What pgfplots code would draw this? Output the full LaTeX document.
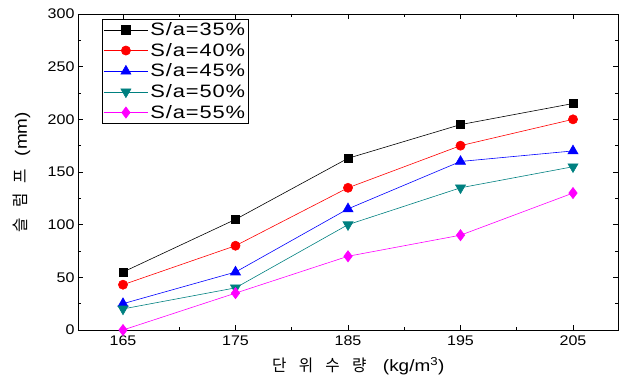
\documentclass[border=0pt]{standalone}
\usepackage{pgfplots}
\pgfplotsset{compat=1.18}
\usepackage{fontspec}
\setmainfont{Liberation Sans}[FakeStretch=1.15]
\newfontfamily\lgfont{Liberation Sans}[FakeStretch=1.22, LetterSpace=5]
\newfontfamily\kr{Noto Sans CJK KR}[FakeStretch=0.95]
\definecolor{cblack}{RGB}{0,0,0}
\definecolor{cred}{RGB}{255,0,0}
\definecolor{cblue}{RGB}{0,0,255}
\definecolor{cteal}{RGB}{0,128,128}
\definecolor{cmag}{RGB}{255,0,255}
\begin{document}
\begin{tikzpicture}
\begin{axis}[name=ax,
  scale only axis, width=540bp, height=316bp,
  xmin=161, xmax=209, ymin=0, ymax=300,
  xtick={165,175,185,195,205}, minor xtick={170,180,190,200},
  ytick={0,50,...,300}, minor ytick={25,75,...,275},
  tick align=inside, major tick length=5bp, minor tick length=3bp,
  tick style={black, line width=0.6pt},
  axis line style={line width=0.9pt},
  /pgf/number format/assume math mode=true,
  tick label style={font=\fontsize{14}{15}\selectfont},
  xticklabel style={yshift=-2bp},
  xlabel={{\kr 단\hspace{0.75em}위\hspace{0.75em}수\hspace{0.75em}량}\hspace{1em}(kg/m\textsuperscript{3})},
  ylabel={{\kr 슬\hspace{0.6em}럼\hspace{0.6em}프}\hspace{0.8em}(mm)},
  label style={font=\fontsize{16.5}{17}\selectfont},
  xlabel style={at={(axis description cs:0.519,-0.114)}, anchor=center},
  ylabel style={at={(axis description cs:-0.104,0.5)}, anchor=center},
  legend style={at={(axis cs:163.1,295.5)}, anchor=north west, font=\lgfont\fontsize{18}{19}\selectfont,
    draw=black, line width=0.8pt, inner sep=1.5pt, row sep=2.2pt, cells={anchor=west}},
  legend image code/.code={%
    \draw[mark repeat=2,mark phase=2] plot coordinates {(0cm,0cm) (0.78cm,0cm) (1.56cm,0cm)};},
  every axis plot/.append style={line width=0.6pt},
]
\addplot[cblack, mark=square*, mark size=4.2pt] coordinates {(165,55) (175,105) (185,163) (195,195) (205,215)};
\addlegendentry{S/a=35\%}
\addplot[cred, mark=*, mark size=4.6pt] coordinates {(165,43) (175,80) (185,135) (195,175) (205,200)};
\addlegendentry{S/a=40\%}
\addplot[cblue, mark=triangle*, mark size=5.8pt] coordinates {(165,25) (175,55) (185,115) (195,160) (205,170)};
\addlegendentry{S/a=45\%}
\addplot[cteal, mark=triangle*, mark options={rotate=180}, mark size=5.8pt] coordinates {(165,20) (175,40) (185,100) (195,135) (205,155)};
\addlegendentry{S/a=50\%}
\addplot[cmag, mark=diamond*, mark size=5.6pt] coordinates {(165,0) (175,35) (185,70) (195,90) (205,130)};
\addlegendentry{S/a=55\%}
\end{axis}
\path[use as bounding box] ([xshift=-78bp,yshift=-50bp]ax.south west) rectangle ([xshift=6bp,yshift=14bp]ax.north east);
\end{tikzpicture}
\end{document}
